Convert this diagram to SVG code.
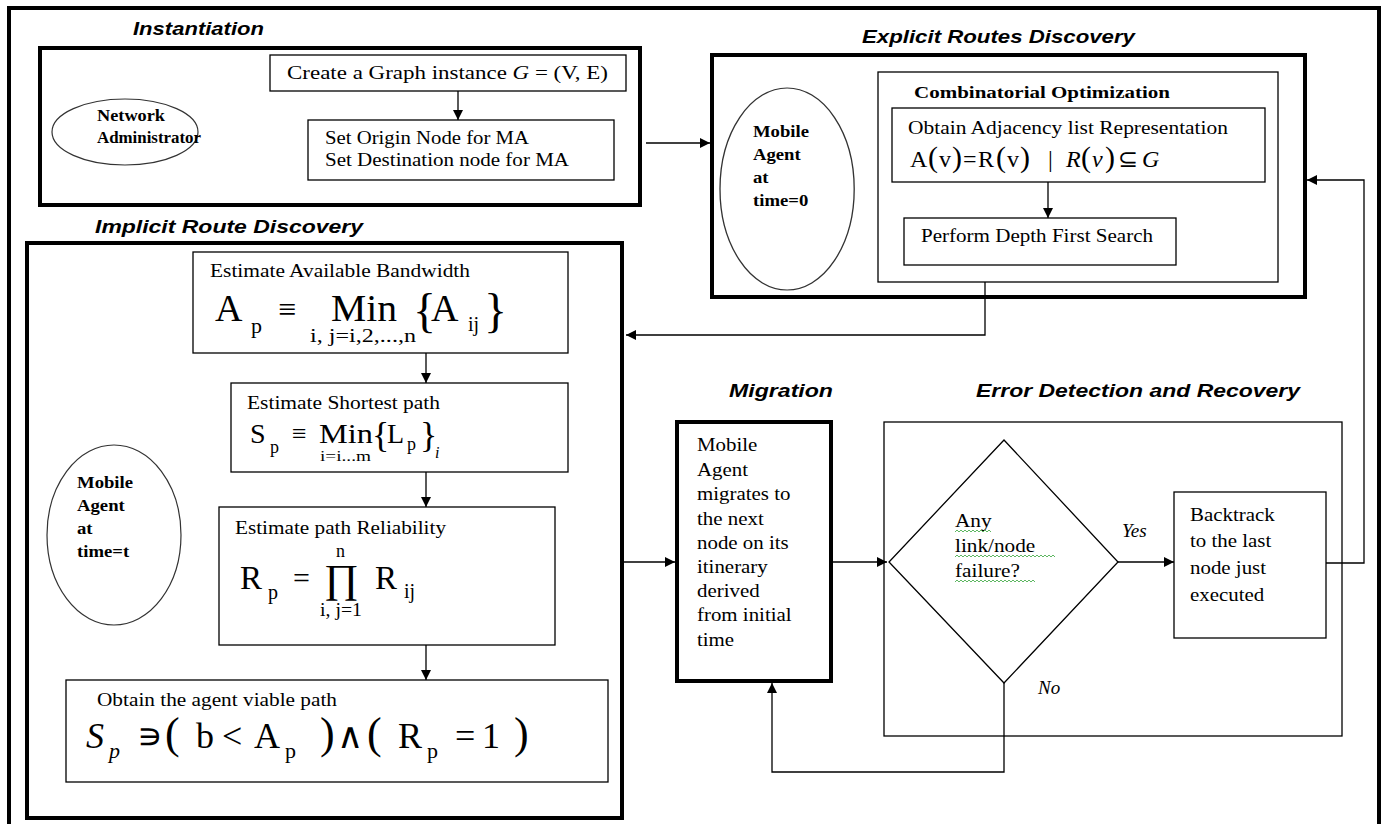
<svg xmlns="http://www.w3.org/2000/svg" width="1388" height="824" viewBox="0 0 1388 824">
<style>
.frame{fill:none;stroke:#000;stroke-width:4}
.box{fill:#fff;stroke:#000;stroke-width:1.3}
.ell{fill:#fff;stroke:#333;stroke-width:1.2}
.line{fill:none;stroke:#000;stroke-width:1.3}
.title{font-family:"Liberation Sans",Arial,sans-serif;font-weight:bold;font-style:italic;font-size:19px;fill:#000}
.t{font-family:"Liberation Serif","Times New Roman",serif;font-size:19px;fill:#000}
.b{font-family:"Liberation Serif","Times New Roman",serif;font-size:17px;font-weight:bold;fill:#000}
.m{font-family:"Liberation Serif","Times New Roman",serif;fill:#000}
.it{font-style:italic}
.wavy{fill:none;stroke:#4caf50;stroke-width:0.9}
</style>
<defs>
<marker id="ah" viewBox="0 0 10 10" refX="10" refY="5" markerWidth="10" markerHeight="10" markerUnits="userSpaceOnUse" orient="auto">
<path d="M0,0 L10,5 L0,10 z" fill="#000"/>
</marker>
</defs>
<rect x="0" y="0" width="1388" height="824" fill="#fff"/>
<rect id="outer" class="frame" x="9" y="8" width="1370" height="840" stroke-width="3.5"/>

<g id="instantiation">
<text class="title" x="133" y="35" textLength="131" lengthAdjust="spacingAndGlyphs">Instantiation</text>
<rect class="frame" x="40" y="48" width="600" height="157"/>
</g>
<g id="network-admin">
<ellipse class="ell" cx="125" cy="132" rx="73" ry="33"/>
<text class="b" x="97" y="121" font-size="18" textLength="68" lengthAdjust="spacingAndGlyphs">Network</text>
<text class="b" x="97" y="143" font-size="18" textLength="104" lengthAdjust="spacingAndGlyphs">Administrator</text>
</g>
<g id="create-graph">
<rect class="box" x="270" y="55" width="356" height="36"/>
<text class="t" x="287" y="79" textLength="321" lengthAdjust="spacingAndGlyphs">Create a Graph instance <tspan class="it">G</tspan> = (V, E)</text>
</g>
<g id="set-nodes">
<rect class="box" x="308" y="120" width="306" height="60"/>
<text class="t" x="325" y="144" textLength="204" lengthAdjust="spacingAndGlyphs">Set Origin Node for MA</text>
<text class="t" x="325" y="166" textLength="244" lengthAdjust="spacingAndGlyphs">Set Destination node for MA</text>
</g>

<g id="explicit">
<text class="title" x="862" y="43" textLength="273" lengthAdjust="spacingAndGlyphs">Explicit Routes Discovery</text>
<rect class="frame" x="712" y="55" width="593" height="242"/>
</g>
<g id="mobile-agent-0" transform="translate(753,0) scale(1.1,1) translate(-753,0)">
<ellipse class="ell" cx="784" cy="189" rx="61" ry="101"/>
<text class="b" x="753" y="137" font-size="19">Mobile</text>
<text class="b" x="753" y="160" font-size="19">Agent</text>
<text class="b" x="753" y="183" font-size="19">at</text>
<text class="b" x="753" y="206" font-size="19">time=0</text>
</g>
<g id="combinatorial">
<rect class="box" x="878" y="72" width="400" height="210"/>
<text class="b" x="914" y="98" textLength="256" lengthAdjust="spacingAndGlyphs">Combinatorial Optimization</text>
</g>
<g id="adjacency">
<rect class="box" x="892" y="108" width="373" height="74"/>
<text class="t" x="908" y="134" textLength="320" lengthAdjust="spacingAndGlyphs">Obtain Adjacency list Representation</text>
<text class="m" font-size="24" y="167"><tspan x="910">A</tspan><tspan x="928" font-size="30">(</tspan><tspan x="939">v</tspan><tspan x="952" font-size="30">)</tspan><tspan x="963">=</tspan><tspan x="978">R</tspan><tspan x="996" font-size="30">(</tspan><tspan x="1007">v</tspan><tspan x="1020" font-size="30">)</tspan><tspan x="1048">|</tspan><tspan x="1066" class="it">R</tspan><tspan x="1081" font-size="30">(</tspan><tspan x="1092" class="it">v</tspan><tspan x="1105" font-size="30">)</tspan><tspan x="1118">⊆</tspan><tspan x="1142" class="it">G</tspan></text>
</g>
<g id="dfs">
<rect class="box" x="904" y="218" width="272" height="47"/>
<text class="t" x="921" y="242" textLength="232" lengthAdjust="spacingAndGlyphs">Perform Depth First Search</text>
</g>

<g id="implicit">
<text class="title" x="95" y="233" textLength="268" lengthAdjust="spacingAndGlyphs">Implicit Route Discovery</text>
<rect class="frame" x="27" y="243" width="595" height="575"/>
</g>
<g id="mobile-agent-t">
<ellipse class="ell" cx="114" cy="535" rx="67" ry="90"/>
<g transform="translate(77,0) scale(1.1,1) translate(-77,0)">
<text class="b" x="77" y="488" font-size="19">Mobile</text>
<text class="b" x="77" y="511" font-size="19">Agent</text>
<text class="b" x="77" y="534" font-size="19">at</text>
<text class="b" x="77" y="557" font-size="19">time=t</text>
</g>
</g>
<g id="bandwidth">
<rect class="box" x="193" y="252" width="375" height="101"/>
<text class="t" x="210" y="277" textLength="260" lengthAdjust="spacingAndGlyphs">Estimate Available Bandwidth</text>
<text class="m" x="215" y="321" font-size="38">A</text>
<text class="m" x="251" y="333" font-size="22">p</text>
<text class="m" x="278" y="320" font-size="32">≡</text>
<text class="m" x="331" y="321" font-size="38" textLength="66" lengthAdjust="spacingAndGlyphs">Min</text>
<text class="m" x="310" y="342" font-size="18" textLength="106" lengthAdjust="spacingAndGlyphs">i, j=i,2,...,n</text>
<text class="m" x="413" y="327" font-size="48">{</text>
<text class="m" x="431" y="321" font-size="38">A</text>
<text class="m" x="468" y="331" font-size="20">ij</text>
<text class="m" x="484" y="327" font-size="48">}</text>
</g>
<g id="shortest">
<rect class="box" x="231" y="383" width="337" height="89"/>
<text class="t" x="247" y="409" textLength="193" lengthAdjust="spacingAndGlyphs">Estimate Shortest path</text>
<text class="m" x="250" y="443" font-size="28">S</text>
<text class="m" x="270" y="453" font-size="18">p</text>
<text class="m" x="292" y="442" font-size="26">≡</text>
<text class="m" x="319" y="443" font-size="28" textLength="54" lengthAdjust="spacingAndGlyphs">Min</text>
<text class="m" x="320" y="461" font-size="14" textLength="51" lengthAdjust="spacingAndGlyphs">i=i...m</text>
<text class="m" x="372" y="447" font-size="36">{</text>
<text class="m" x="387" y="443" font-size="28">L</text>
<text class="m" x="407" y="450" font-size="18">p</text>
<text class="m" x="420" y="447" font-size="36">}</text>
<text class="m it" x="435" y="458" font-size="16">i</text>
</g>
<g id="reliability">
<rect class="box" x="219" y="507" width="336" height="138"/>
<text class="t" x="235" y="534" textLength="211" lengthAdjust="spacingAndGlyphs">Estimate path Reliability</text>
<text class="m" x="240" y="589" font-size="33">R</text>
<text class="m" x="268" y="599" font-size="20">p</text>
<text class="m" x="293" y="588" font-size="30">=</text>
<text class="m" x="324" y="592" font-size="40" textLength="35" lengthAdjust="spacingAndGlyphs">∏</text>
<text class="m" x="336" y="557" font-size="18">n</text>
<text class="m" x="320" y="616" font-size="18" textLength="42" lengthAdjust="spacingAndGlyphs">i, j=1</text>
<text class="m" x="375" y="589" font-size="33">R</text>
<text class="m" x="404" y="598" font-size="20">ij</text>
</g>
<g id="viable">
<rect class="box" x="66" y="680" width="542" height="102"/>
<text class="t" x="97" y="706" textLength="240" lengthAdjust="spacingAndGlyphs">Obtain the agent viable path</text>
<text class="m" font-size="36" y="748"><tspan x="86" class="it">S</tspan><tspan x="137">∍</tspan><tspan x="165" font-size="44">(</tspan><tspan x="196">b</tspan><tspan x="222">&lt;</tspan><tspan x="254">A</tspan><tspan x="320" font-size="44">)</tspan><tspan x="337">∧</tspan><tspan x="367" font-size="44">(</tspan><tspan x="398">R</tspan><tspan x="455">=</tspan><tspan x="482">1</tspan><tspan x="514" font-size="44">)</tspan></text>
<text class="m it" x="109" y="758" font-size="22">p</text>
<text class="m" x="285" y="758" font-size="22">p</text>
<text class="m" x="427" y="758" font-size="22">p</text>
</g>

<g id="migration">
<text class="title" x="729" y="397" textLength="104" lengthAdjust="spacingAndGlyphs">Migration</text>
<rect class="frame" x="677" y="422" width="154" height="259"/>
<g transform="translate(697,0) scale(1.1,1) translate(-697,0)">
<text class="t" font-size="21" x="697" y="451">Mobile</text>
<text class="t" font-size="21" x="697" y="476">Agent</text>
<text class="t" font-size="21" x="697" y="500">migrates to</text>
<text class="t" font-size="21" x="697" y="525">the next</text>
<text class="t" font-size="21" x="697" y="549">node on its</text>
<text class="t" font-size="21" x="697" y="573">itinerary</text>
<text class="t" font-size="21" x="697" y="597">derived</text>
<text class="t" font-size="21" x="697" y="621">from initial</text>
<text class="t" font-size="21" x="697" y="646">time</text>
</g>
</g>

<g id="error-detection">
<text class="title" x="976" y="397" textLength="324" lengthAdjust="spacingAndGlyphs">Error Detection and Recovery</text>
<rect class="box" x="884" y="422" width="458" height="314"/>
</g>
<g id="decision">
<polygon class="box" points="1004,440 1118,562 1004,683 889,562"/>
<g transform="translate(955,0) scale(1.12,1) translate(-955,0)">
<text class="t" font-size="22" x="955" y="527">Any</text>
<text class="t" font-size="22" x="955" y="552">link/node</text>
<text class="t" font-size="22" x="955" y="577">failure?</text>
</g>
<path class="wavy" d="M955,532 l2,-2 l2,2 l2,-2 l2,2 l2,-2 l2,2 l2,-2 l2,2 l2,-2 l2,2 l2,-2 l2,2 l2,-2 l2,2 l2,-2 l2,2 l2,-2 l2,2"/>
<path class="wavy" d="M955,557 l2,-2 l2,2 l2,-2 l2,2 l2,-2 l2,2 l2,-2 l2,2 l2,-2 l2,2 l2,-2 l2,2 l2,-2 l2,2 l2,-2 l2,2 l2,-2 l2,2 l2,-2 l2,2 l2,-2 l2,2 l2,-2 l2,2 l2,-2 l2,2 l2,-2 l2,2 l2,-2 l2,2 l2,-2 l2,2 l2,-2 l2,2 l2,-2 l2,2 l2,-2 l2,2 l2,-2 l2,2 l2,-2 l2,2 l2,-2 l2,2 l2,-2 l2,2 l2,-2 l2,2 l2,-2 l2,2"/>
<path class="wavy" d="M955,582 l2,-2 l2,2 l2,-2 l2,2 l2,-2 l2,2 l2,-2 l2,2 l2,-2 l2,2 l2,-2 l2,2 l2,-2 l2,2 l2,-2 l2,2 l2,-2 l2,2 l2,-2 l2,2 l2,-2 l2,2 l2,-2 l2,2 l2,-2 l2,2 l2,-2 l2,2 l2,-2 l2,2 l2,-2 l2,2 l2,-2 l2,2 l2,-2 l2,2 l2,-2 l2,2 l2,-2 l2,2"/>
</g>
<g id="backtrack">
<rect class="box" x="1174" y="492" width="152" height="146"/>
<g transform="translate(1190,0) scale(1.1,1) translate(-1190,0)">
<text class="t" font-size="23" x="1190" y="521">Backtrack</text>
<text class="t" font-size="23" x="1190" y="547">to the last</text>
<text class="t" font-size="23" x="1190" y="574">node just</text>
<text class="t" font-size="23" x="1190" y="601">executed</text>
</g>
</g>

<g id="connectors">
<line class="line" x1="458" y1="91" x2="458" y2="120" marker-end="url(#ah)"/>
<line class="line" x1="646" y1="143" x2="710" y2="143" marker-end="url(#ah)"/>
<line class="line" x1="1048" y1="182" x2="1048" y2="218" marker-end="url(#ah)"/>
<polyline class="line" points="985,282 985,335 626,335" marker-end="url(#ah)"/>
<line class="line" x1="426" y1="353" x2="426" y2="383" marker-end="url(#ah)"/>
<line class="line" x1="426" y1="472" x2="426" y2="507" marker-end="url(#ah)"/>
<line class="line" x1="426" y1="645" x2="426" y2="680" marker-end="url(#ah)"/>
<line class="line" x1="624" y1="562" x2="675" y2="562" marker-end="url(#ah)"/>
<line class="line" x1="831" y1="562" x2="887" y2="562" marker-end="url(#ah)"/>
<line class="line" x1="1118" y1="562" x2="1174" y2="562" marker-end="url(#ah)"/>
<polyline class="line" points="1326,563 1364,563 1364,180 1307,180" marker-end="url(#ah)"/>
<polyline class="line" points="1004,683 1004,772 772,772 772,683" marker-end="url(#ah)"/>
<text class="t it" font-size="21" x="1122" y="537">Yes</text>
<text class="t it" font-size="21" x="1038" y="694">No</text>
</g>
</svg>
